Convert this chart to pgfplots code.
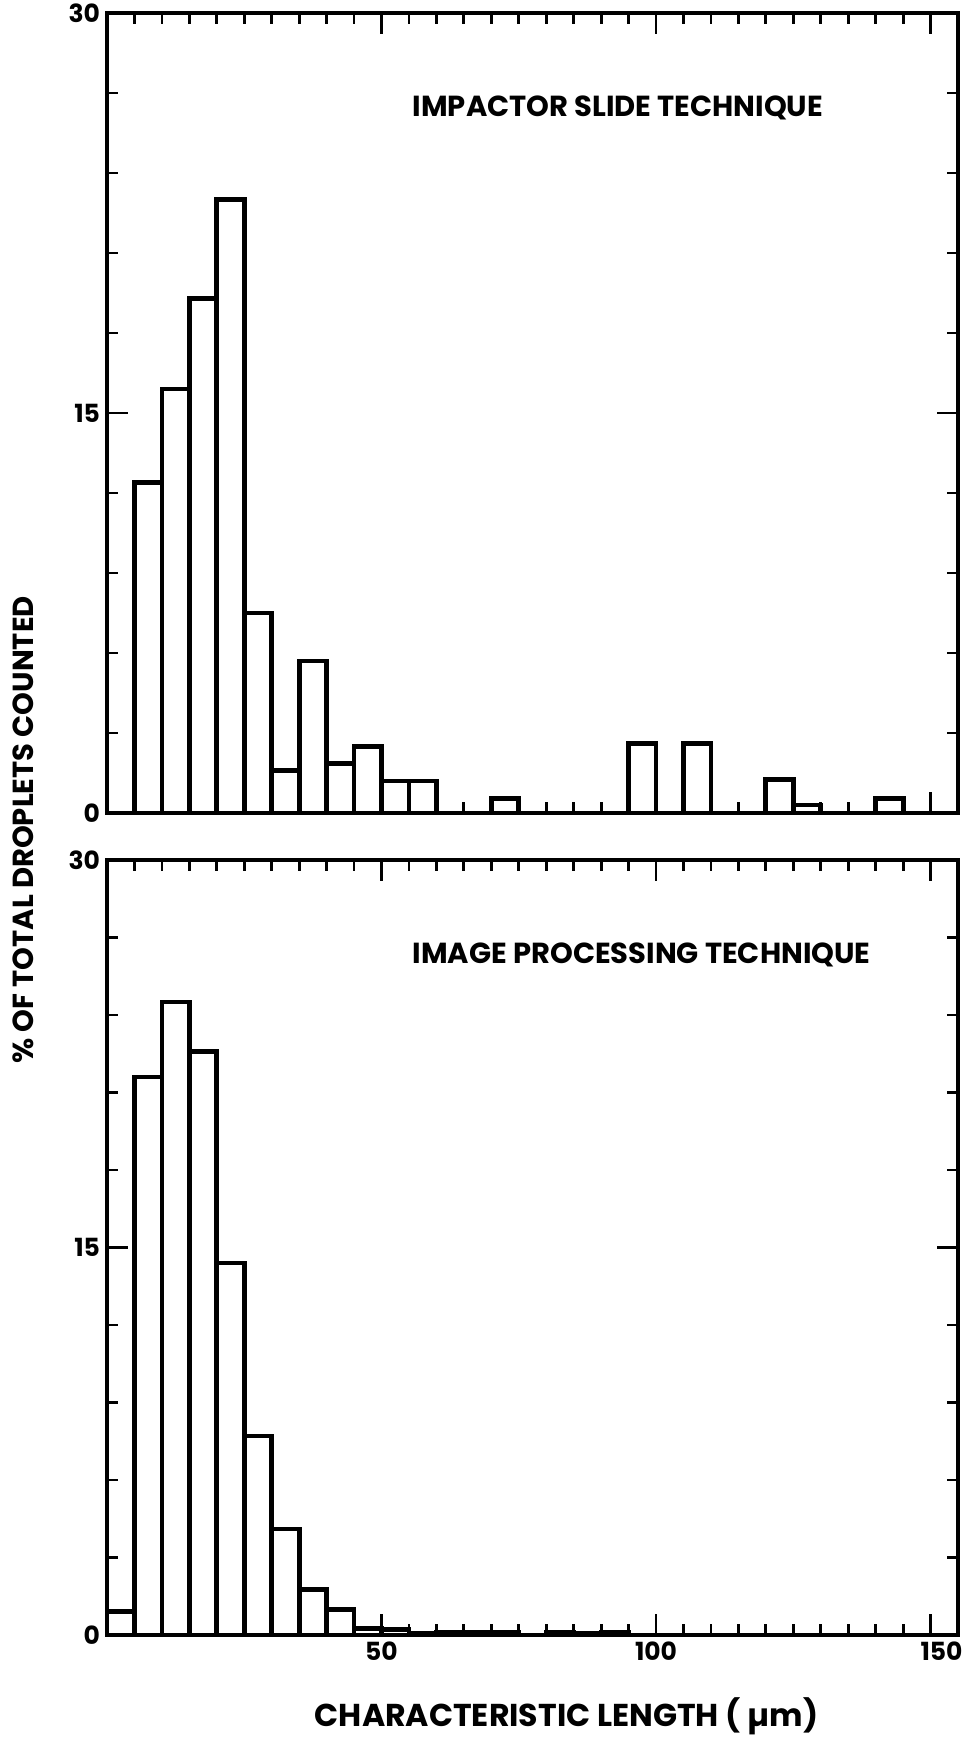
\documentclass[border=0pt]{standalone}
\usepackage{fontspec}
\setmainfont{Poppins}
\usepackage{pgfplots}
\pgfplotsset{compat=1.18}
\pgfplotstableread{
x y
0 0
5 12.4
10 15.9
15 19.3
20 23.0
25 7.5
30 1.6
35 5.7
40 1.85
45 2.5
50 1.2
55 1.2
60 0
65 0
70 0.55
75 0
80 0
85 0
90 0
95 2.6
100 0
105 2.6
110 0
115 0
120 1.25
125 0.3
130 0
135 0
140 0.55
145 0
150 0
155 0
}\impactor
\pgfplotstableread{
x y
0 0.9
5 21.6
10 24.5
15 22.6
20 14.4
25 7.7
30 4.1
35 1.75
40 1.0
45 0.25
50 0.2
55 0.08
60 0.1
65 0.1
70 0.1
75 0
80 0.1
85 0.05
90 0.1
95 0
100 0
105 0
110 0
115 0
120 0
125 0
130 0
135 0
140 0
145 0
150 0
155 0
}\imageproc
\begin{document}
\begin{tikzpicture}
\useasboundingbox (0pt,0pt) rectangle (482pt,874pt);
\pgfplotsset{
  hist/.style={
    scale only axis, width=425.5pt,
    xmin=0, xmax=155, ymin=0, ymax=30,
    xtick={50,100,150}, ytick={0,15,30},
    minor xtick={5,10,...,155}, minor ytick={3,6,...,27},
    major tick length=10.5pt, minor tick length=5.5pt,
    every tick/.style={line width=1.4pt, black},
    axis line style={line width=2pt},
    tick align=inside,
    tick pos=both,
    /pgf/number format/assume math mode=true,
    ticklabel style={font=\bfseries\fontsize{12.5}{12.5}\selectfont},
    clip=false,
  }
}
\begin{axis}[hist, height=400pt, at={(53.5pt,467.5pt)}, anchor=south west, xticklabels={,,}]
\addplot[ybar interval, fill=white, draw=black, line width=2.4pt] table[x=x,y=y] {\impactor};
\node[anchor=west, font=\bfseries\fontsize{14.5}{14.5}\selectfont] at (rel axis cs:0.351,0.881) {IMPACTOR SLIDE TECHNIQUE};
\node[rotate=90, font=\bfseries\fontsize{14.5}{14.5}\selectfont] at (rel axis cs:-0.0985,-0.021) {\% OF TOTAL DROPLETS COUNTED};
\end{axis}
\begin{axis}[hist, height=387.5pt, at={(53.5pt,56.5pt)}, anchor=south west,
  xticklabels={50,100,\hspace*{11pt}150}]
\addplot[ybar interval, fill=white, draw=black, line width=2.4pt] table[x=x,y=y] {\imageproc};
\node[anchor=west, font=\bfseries\fontsize{14.5}{14.5}\selectfont] at (rel axis cs:0.351,0.877) {IMAGE PROCESSING TECHNIQUE};
\node[font=\bfseries\fontsize{15.8}{15.8}\selectfont] at (rel axis cs:0.540,-0.1045) {CHARACTERISTIC LENGTH ( µm)};
\end{axis}
\end{tikzpicture}
\end{document}
